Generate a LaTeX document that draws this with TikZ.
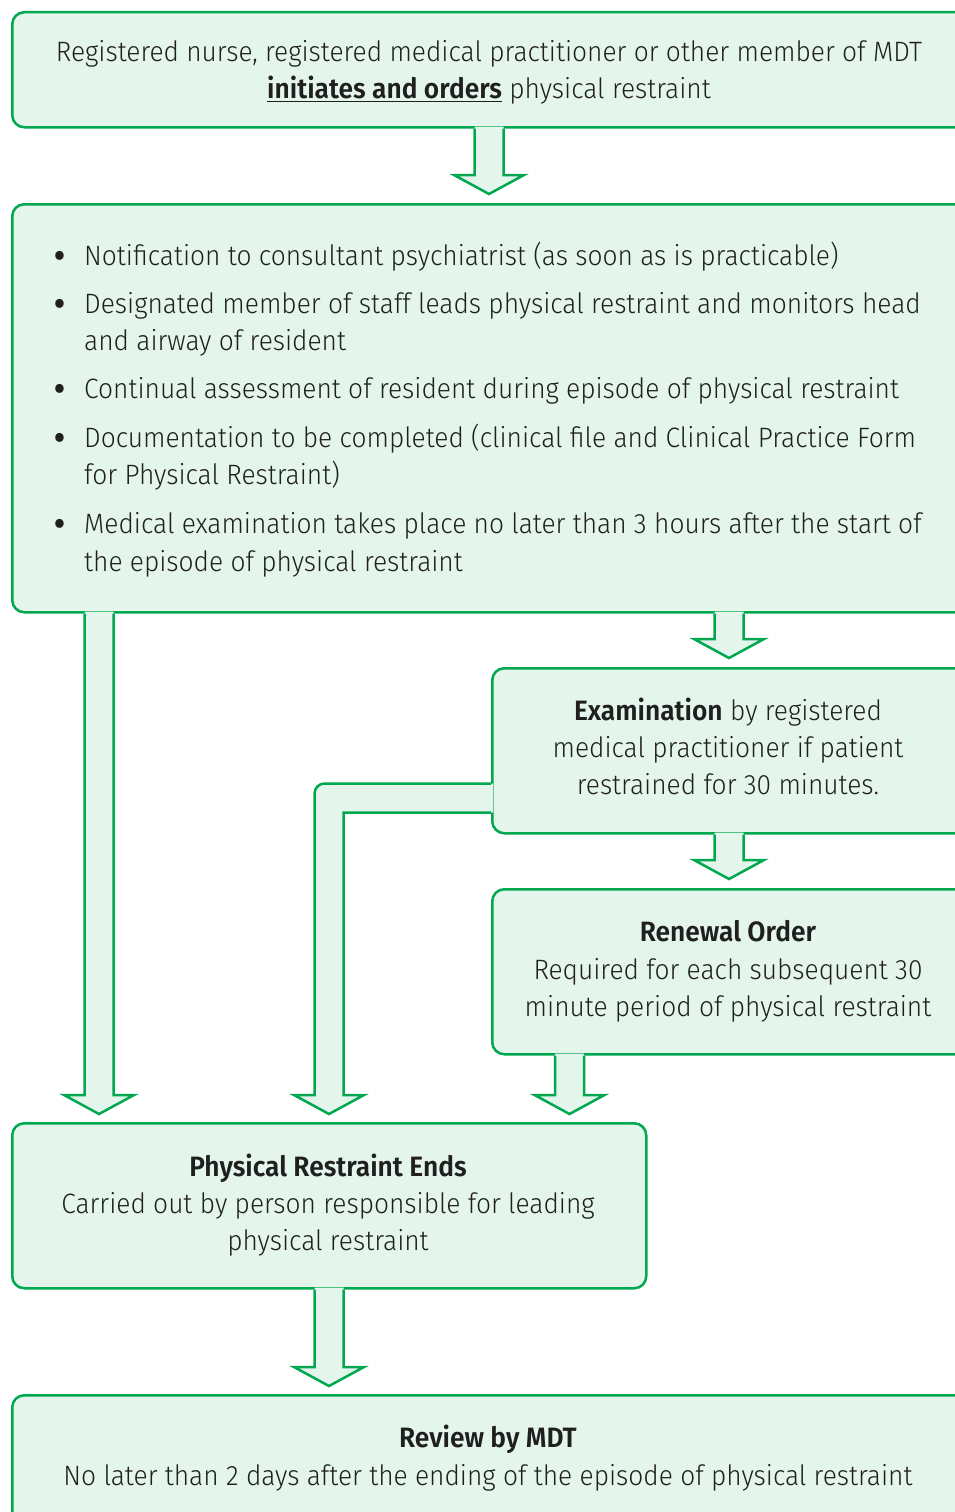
\documentclass[tikz,border=0pt]{standalone}
\usepackage{fontspec}
\setmainfont{Fira Sans}[UprightFont={* Light}, BoldFont={* SemiBold}, FakeStretch=0.94]
\usetikzlibrary{calc}
\definecolor{lg}{RGB}{0,168,80}
\definecolor{lf}{RGB}{228,246,236}
\tikzset{
  box/.style={draw=lg, fill=lf, line width=2.5pt, rounded corners=12pt, anchor=north west, inner sep=0pt},
  afill/.style={fill=lf},
  aline/.style={draw=lg, line width=2.5pt, line join=miter},
  txt/.style={font=\fontsize{28}{37}\selectfont, inner sep=0pt, anchor=base, text=black!88},
  txtl/.style={txt, anchor=base west},
}
\newcommand\blkarrow[2]{%
  \fill[afill] ($(#1)+(-14.5,-2)$) -- ($(#2)+(-14.5,-19)$) -- ($(#2)+(-35,-19)$) -- (#2) -- ($(#2)+(35,-19)$) -- ($(#2)+(14.5,-19)$) -- ($(#1)+(14.5,-2)$) -- cycle;
  \draw[aline] ($(#1)+(-14.5,0)$) -- ($(#2)+(-14.5,-19)$) -- ($(#2)+(-35,-19)$) -- (#2) -- ($(#2)+(35,-19)$) -- ($(#2)+(14.5,-19)$) -- ($(#1)+(14.5,0)$);
}
\begin{document}
\begin{tikzpicture}[x=1pt,y=-1pt]
\useasboundingbox (0,0) rectangle (955,1512);
\clip (0,0) rectangle (955,1512);
% boxes
\node[box, minimum width=956pt, minimum height=115pt] (b1) at (11,11) {};
\node[box, minimum width=956pt, minimum height=408pt] (b2) at (11,203) {};
\node[box, minimum width=476pt, minimum height=165pt] (b3) at (491,667) {};
\node[box, minimum width=476pt, minimum height=165pt] (b4) at (491,888) {};
\node[box, minimum width=634pt, minimum height=165pt] (b5) at (11,1122) {};
\node[box, minimum width=956pt, minimum height=170pt] (b6) at (11,1394) {};
% arrow tips
\coordinate (t1) at (489,194);
\coordinate (t2) at (99,1114);
\coordinate (t3) at (729,658);
\coordinate (t4) at (729,879);
\coordinate (t5) at (569.5,1114);
\coordinate (t6) at (329,1386);
\coordinate (t7) at (329,1114);
% arrow starts
\coordinate (s1) at (t1 |- b1.south);
\coordinate (s2) at (t2 |- b2.south);
\coordinate (s3) at (t3 |- b2.south);
\coordinate (s4) at (t4 |- b3.south);
\coordinate (s5) at (t5 |- b4.south);
\coordinate (s6) at (t6 |- b5.south);
\blkarrow{s1}{t1}
\blkarrow{s2}{t2}
\blkarrow{s3}{t3}
\blkarrow{s4}{t4}
\blkarrow{s5}{t5}
\blkarrow{s6}{t6}
% elbow arrow from examination box
\coordinate (e1) at ($(b3.south west)+(0,-51)$);
\coordinate (e2) at ($(b3.south west)+(0,-22)$);
\coordinate (e3) at (t7 |- e1);
\fill[afill] ($(e1)+(2,0)$) [rounded corners=10pt] -- ($(e3)+(-14.5,0)$) [sharp corners] -- ($(t7)+(-14.5,-19)$) -- ($(t7)+(-35,-19)$) -- (t7) -- ($(t7)+(35,-19)$) -- ($(t7)+(14.5,-19)$) -- ($(t7 |- e2)+(14.5,0)$) -- ($(e2)+(2,0)$) -- cycle;
\draw[aline] (e1) [rounded corners=10pt] -- ($(e3)+(-14.5,0)$) [sharp corners] -- ($(t7)+(-14.5,-19)$) -- ($(t7)+(-35,-19)$) -- (t7) -- ($(t7)+(35,-19)$) -- ($(t7)+(14.5,-19)$) -- ($(t7 |- e2)+(14.5,0)$) -- (e2);
% texts box 1
\node[txt] (l11) at (489,62) {Registered nurse, registered medical practitioner or other member of MDT};
\node[txt] (l12) at (489,99) {\underline{\textbf{initiates and orders}} physical restraint};
% box 2 bullets
\foreach \y [count=\i] in {265,313,398,447,533} {
  \node[txt, font=\fontsize{34}{37}\selectfont\bfseries] (d\i) at (60,\y+2) {\textbullet};
}
\node[txtl] (l21) at (84,265) {Notification to consultant psychiatrist (as soon as is practicable)};
\node[txtl] (l22) at (84,313) {Designated member of staff leads physical restraint and monitors head};
\node[txtl] (l23) at (84,350) {and airway of resident};
\node[txtl] (l24) at (84,398) {Continual assessment of resident during episode of physical restraint};
\node[txtl] (l25) at (84,447) {Documentation to be completed (clinical file and Clinical Practice Form};
\node[txtl] (l26) at (84,484) {for Physical Restraint)};
\node[txtl] (l27) at (84,533) {Medical examination takes place no later than 3 hours after the start of};
\node[txtl] (l28) at (84,571) {the episode of physical restraint};
% box 3
\node[txt] (l31) at (728,720) {\textbf{Examination} by registered};
\node[txt] (l32) at (728,757) {medical practitioner if patient};
\node[txt] (l33) at (728,794) {restrained for 30 minutes.};
% box 4
\node[txt] (l41) at (728,941) {\textbf{Renewal Order}};
\node[txt] (l42) at (728,979) {Required for each subsequent 30};
\node[txt] (l43) at (728,1016) {minute period of physical restraint};
% box 5
\node[txt] (l51) at (328,1176) {\textbf{Physical Restraint Ends}};
\node[txt] (l52) at (328,1213) {Carried out by person responsible for leading};
\node[txt] (l53) at (328,1250) {physical restraint};
% box 6
\node[txt] (l61) at (488,1447) {\textbf{Review by MDT}};
\node[txt] (l62) at (488,1485) {No later than 2 days after the ending of the episode of physical restraint};
\end{tikzpicture}
\end{document}
